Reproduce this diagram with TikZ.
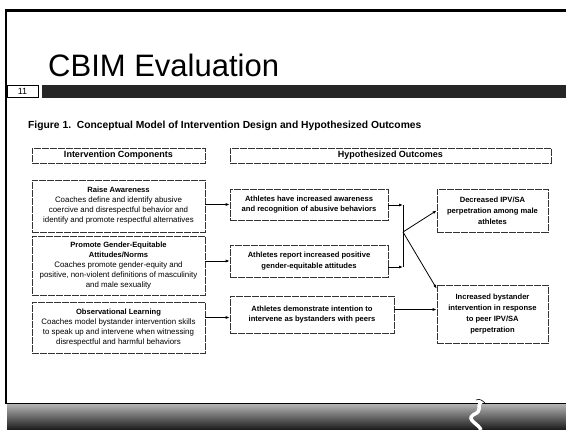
\documentclass[tikz,border=0pt]{standalone}
\usepackage{fontspec}
\setmainfont{Liberation Sans}
\usetikzlibrary{arrows.meta}

\newcommand\boxhead[1]{\textbf{\fontsize{7.6}{10}\selectfont #1}}

\begin{document}
\begin{tikzpicture}[x=1pt,y=-1pt,
    box/.style={draw=black!80,line width=.6pt,dash pattern=on 7pt off 1pt,
      align=center,inner sep=0pt,font=\fontsize{7.9}{10}\selectfont},
    bbox/.style={box,font=\fontsize{7.6}{10.8}\bfseries},
    hbox/.style={box,font=\fontsize{9}{10}\bfseries,minimum height=15},
    arr/.style={line width=.8pt,-{Latex[length=4pt,width=3pt]}}]
    \useasboundingbox (0,0) rectangle (566,430);

    % Marco de la diapositiva, titulo y barra oscura.
    \draw[line width=2.5pt] (6,404) -- (6,10.5) -- (566,10.5);
    \node[anchor=base west,inner sep=0pt,font=\fontsize{31}{31}\selectfont] (title) at (48,77) {CBIM Evaluation};
    \fill[black!85] (42,85) rectangle (566,98);
    \node[draw,line width=.5pt,minimum width=31,minimum height=12,inner sep=0pt,
      font=\fontsize{9}{9}\selectfont] (pg) at (22.5,91.5) {11};
    \node[anchor=west,inner sep=0pt,font=\fontsize{10.3}{12}\bfseries] (cap) at (28,126)
      {Figure 1.\ \ Conceptual Model of Intervention Design and Hypothesized Outcomes};

    % Cabeceras de las dos columnas.
    \node[hbox,minimum width=173] (hl) at (118.5,155.5) {Intervention Components};
    \node[hbox,minimum width=321] (hr) at (390.5,155.5) {Hypothesized Outcomes};

    % Componentes de la intervencion.
    \node[box,minimum width=173,minimum height=52] (b1) at (118.5,206)
      {\boxhead{Raise Awareness}\\Coaches define and identify abusive\\coercive and disrespectful behavior and\\identify and promote respectful alternatives};
    \node[box,minimum width=173,minimum height=59] (b2) at (118.5,265.5)
      {\boxhead{Promote Gender-Equitable}\\\boxhead{Attitudes/Norms}\\Coaches promote gender-equity and\\positive, non-violent definitions of masculinity\\and male sexuality};
    \node[box,minimum width=173,minimum height=51] (b3) at (118.5,327.5)
      {\boxhead{Observational Learning}\\Coaches model bystander intervention skills\\to speak up and intervene when witnessing\\disrespectful and harmful behaviors};

    % Resultados intermedios y finales.
    \node[bbox,minimum width=158,minimum height=31] (m1) at (309,204.5)
      {Athletes have increased awareness\\and recognition of abusive behaviors};
    \node[bbox,minimum width=158,minimum height=32] (m2) at (309,261)
      {Athletes report increased positive\\gender-equitable attitudes};
    \node[bbox,minimum width=164,minimum height=37] (m3) at (312,314.5)
      {Athletes demonstrate intention to\\intervene as bystanders with peers};
    \node[bbox,minimum width=111,minimum height=43] (r1) at (492.5,210.5)
      {Decreased IPV/SA\\perpetration among male\\athletes};
    \node[bbox,minimum width=111,minimum height=58] (r2) at (492.5,314)
      {Increased bystander\\intervention in response\\to peer IPV/SA\\perpetration};

    % Flechas.
    \draw[arr] (b1.east |- m1.west) -- (m1.west);
    \draw[arr] (b2.east |- m2.west) -- (m2.west);
    \draw[arr] ([yshift=-3pt]b3.east |- m3.west) -- ([yshift=-3pt]m3.west);
    \coordinate (j1) at (403,205);
    \coordinate (j2) at (403,267);
    \coordinate (j) at (403,232);
    \draw[arr] (m1.east |- j1) -- (j1);
    \draw[arr] (m2.east |- j2) -- (j2);
    \draw[line width=.8pt] (j1) -- (j2);
    \draw[arr] (j) -- (r1.west);
    \draw[arr] (j) -- ([yshift=-4pt]r2.north west);
    \draw[arr] ([yshift=5pt]m3.east) -- ([yshift=5pt]m3.east -| r2.west);

    % Banda inferior con la cinta blanca.
    \shade[top color=black!30,bottom color=black!90] (7,404) rectangle (566,430);
    \draw[line width=1pt] (4.8,404) -- (566,404);
    \draw[white,line width=3.5pt] (481,402) .. controls (476,407) and (484,410) .. (473,415)
      .. controls (466,420) and (479,424) .. (481,430);
    \draw[line width=.6pt] (476,400) .. controls (480,398) and (483,401) .. (486,404);
\end{tikzpicture}
\end{document}
